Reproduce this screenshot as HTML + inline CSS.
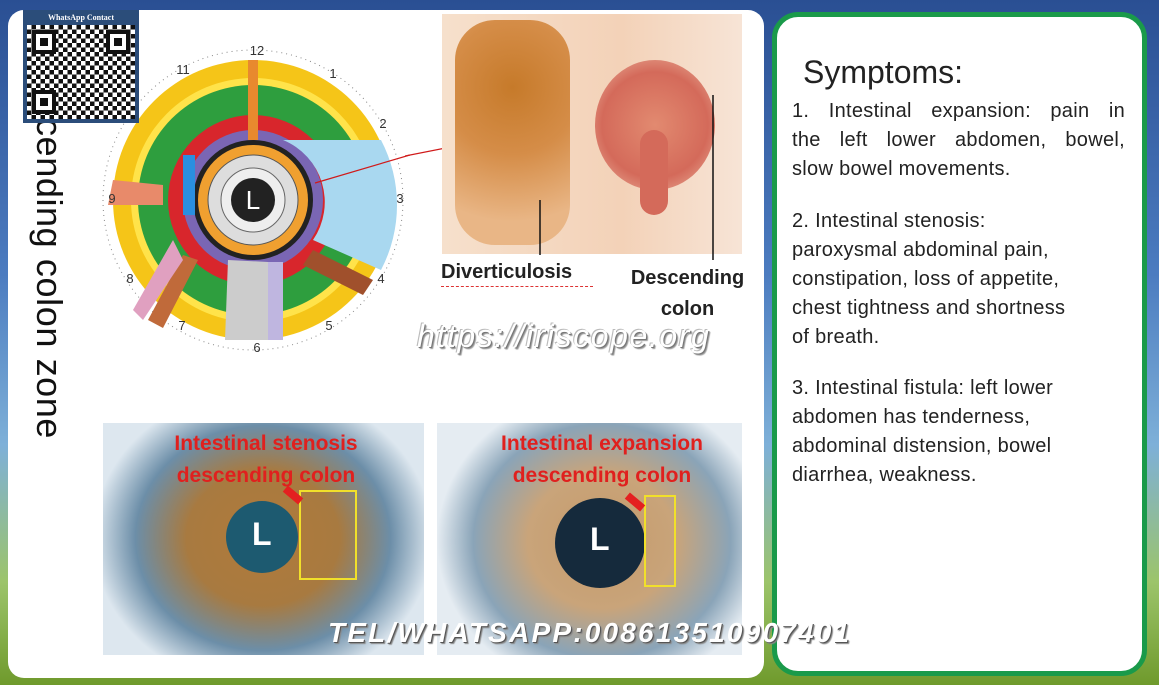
<!DOCTYPE html>
<html><head><meta charset="utf-8"><style>
*{margin:0;padding:0;box-sizing:border-box}
body{width:1159px;height:685px;overflow:hidden;position:relative;font-family:"Liberation Sans",sans-serif;
background:linear-gradient(180deg,#2a4f93 0%,#4c7cc0 40%,#7eb0d8 65%,#9cc46a 85%,#6f9a2c 100%);}
.abs{position:absolute}
#left{left:8px;top:10px;width:756px;height:668px;background:#fff;border-radius:16px}
#right{left:772px;top:12px;width:375px;height:664px;background:#fff;border:5px solid #1a9a4a;border-radius:26px}
.t{font-size:20px;color:#222;line-height:29px;letter-spacing:0.3px}
.j{text-align:justify;text-align-last:justify}
.fp{position:absolute;width:24px;height:24px;border:4px solid #111;background:#fff}
.fp::after{content:"";position:absolute;left:4px;top:4px;width:8px;height:8px;background:#111}
</style></head><body>
<div id="left" class="abs"></div>
<div id="right" class="abs"></div>

<div class="abs" style="left:28px;top:118px;width:40px;height:330px;">
 <div style="position:absolute;left:42px;top:0;transform-origin:0 0;transform:rotate(90deg);font-size:36px;color:#111;white-space:nowrap;letter-spacing:0.6px">cending colon zone</div>
</div>

<svg class="abs" style="left:100px;top:40px" width="310" height="320" viewBox="0 0 310 320">
 <g transform="translate(153,160)">
  <circle r="150" fill="#fff" stroke="#888" stroke-width="1" stroke-dasharray="1 4"/>
  <circle r="140" fill="#f5c518"/>
  <circle r="122" fill="#ffe34a"/>
  <circle r="115" fill="#2e9e3e"/>
  <circle r="85" fill="#d8262c"/>
  <circle r="70" fill="#7a66b4"/>
  <circle r="60" fill="#222"/>
  <circle r="55" fill="#f0a030"/>
  <circle r="45" fill="#ddd" stroke="#555"/>
  <circle r="32" fill="#eee" stroke="#666"/>
  <path d="M30,-60 A67,67 0 0 1 60,40 L128,70 A140,140 0 0 0 128,-60Z" fill="#a9d8f0"/>
  <path d="M-5,-140 L5,-140 L5,-60 L-5,-60Z" fill="#e8892e"/>
  <path d="M-140,-20 L-90,-15 L-90,5 L-145,5Z" fill="#e88a6a"/>
  <path d="M-25,60 L15,62 L15,140 L-28,140Z" fill="#ccc"/>
  <path d="M15,62 L30,62 L30,140 L15,140Z" fill="#bfb6e0"/>
  <path d="M60,50 L120,80 L110,95 L50,65Z" fill="#a0502c"/>
  <path d="M-70,55 L-55,60 L-90,128 L-105,120Z" fill="#c06a3a"/>
  <path d="M-80,40 L-70,60 L-110,120 L-120,110Z" fill="#e0a0c0"/>
  <rect x="-70" y="-45" width="12" height="60" fill="#2a8fe0"/>
  <circle r="22" fill="#222"/>
  <text x="0" y="9" font-size="26" fill="#fff" text-anchor="middle" font-family="Liberation Sans">L</text>
 </g>
 <g font-family="Liberation Sans" font-size="13" fill="#333" text-anchor="middle">
  <text x="157" y="15">12</text><text x="233" y="38">1</text><text x="283" y="88">2</text>
  <text x="300" y="163">3</text><text x="281" y="243">4</text><text x="229" y="290">5</text>
  <text x="157" y="312">6</text><text x="82" y="290">7</text><text x="30" y="243">8</text>
  <text x="12" y="163">9</text><text x="83" y="34">11</text>
 </g>
 <line x1="215" y1="143" x2="310" y2="115" stroke="#d01a1a" stroke-width="1.2"/>
</svg>
<svg class="abs" style="left:405px;top:90px" width="320" height="80"><line x1="0" y1="66" x2="310" y2="5" stroke="#d01a1a" stroke-width="1.2"/></svg>

<div class="abs" style="left:23px;top:10px;width:116px;height:113px;background:#2b4d7a;padding:4px">
 <div style="color:#fff;font:bold 8px 'Liberation Serif',serif;text-align:center;height:8px;line-height:8px">WhatsApp Contact</div>
 <div style="position:relative;margin-top:3px;height:94px;background:conic-gradient(#111 25%,#fff 0 50%,#111 0 75%,#fff 0) 0 0/9px 9px;">
  <div class="fp" style="left:5px;top:5px"></div>
  <div class="fp" style="right:5px;top:5px"></div>
  <div class="fp" style="left:5px;bottom:5px"></div>
 </div>
</div>

<div class="abs" style="left:442px;top:14px;width:300px;height:240px;background:linear-gradient(90deg,#f6e0cc 0%,#f3d2b8 60%,#f7e4d6 100%)"></div>
<div class="abs" style="left:455px;top:20px;width:115px;height:225px;border-radius:40px;background:radial-gradient(circle at 50% 30%,#c67a2a,#d58d48 40%,#e9b686 80%)"></div>
<div class="abs" style="left:595px;top:60px;width:120px;height:130px;border-radius:50%;background:radial-gradient(circle,#e28a70,#d46a5a 60%,#eebda6)"></div>
<div class="abs" style="left:640px;top:130px;width:28px;height:85px;border-radius:14px;background:#d46a5a"></div>
<svg class="abs" style="left:530px;top:90px" width="200" height="180"><line x1="183" y1="5" x2="183" y2="170" stroke="#111" stroke-width="1.5"/><line x1="10" y1="110" x2="10" y2="165" stroke="#111" stroke-width="1.5"/></svg>
<div class="abs" style="left:441px;top:261px;font-weight:bold;font-size:20px;color:#222">Diverticulosis</div>
<div class="abs" style="left:441px;top:286px;width:152px;border-bottom:1px dashed #d33"></div>
<div class="abs" style="left:620px;top:263px;width:135px;font-weight:bold;font-size:20px;color:#222;text-align:center;line-height:31px">Descending<br>colon</div>

<div class="abs" style="left:417px;top:318px;font-style:italic;font-size:32px;color:#fff;text-shadow:1px 1px 0 #777,2px 2px 1px #999,-1px -1px 0 #bbb;letter-spacing:1.6px">https://iriscope.org</div>

<div class="abs" style="left:103px;top:423px;width:321px;height:232px;overflow:hidden;background:radial-gradient(ellipse 170px 150px at 160px 115px,#b07a3a 0%,#a87a40 45%,#6c8ea8 75%,#dde7ef 100%)">
 <div class="abs" style="left:123px;top:78px;width:72px;height:72px;border-radius:50%;background:#1d5a70"></div>
 <div class="abs" style="left:149px;top:93px;font-weight:bold;font-size:32px;color:#fff">L</div>
 <div class="abs" style="left:196px;top:67px;width:58px;height:90px;border:2px solid #f1e02a"></div>
 <div class="abs" style="left:48px;top:5px;width:230px;text-align:center;font-weight:bold;font-size:21px;color:#e0201e;line-height:32px">Intestinal stenosis<br>descending colon</div>
 <div class="abs" style="left:180px;top:68px;width:20px;height:8px;background:#e42020;transform:rotate(40deg)"></div>
</div>
<div class="abs" style="left:437px;top:423px;width:305px;height:232px;overflow:hidden;background:radial-gradient(ellipse 165px 150px at 165px 118px,#c49a6a 0%,#c9a47a 45%,#8aa4b8 78%,#e5ecf2 100%)">
 <div class="abs" style="left:118px;top:75px;width:90px;height:90px;border-radius:50%;background:#152a3c"></div>
 <div class="abs" style="left:153px;top:98px;font-weight:bold;font-size:32px;color:#fff">L</div>
 <div class="abs" style="left:207px;top:72px;width:32px;height:92px;border:2px solid #f1e02a"></div>
 <div class="abs" style="left:30px;top:5px;width:270px;text-align:center;font-weight:bold;font-size:21px;color:#e0201e;line-height:32px">Intestinal expansion<br>descending colon</div>
 <div class="abs" style="left:188px;top:75px;width:20px;height:8px;background:#e42020;transform:rotate(40deg)"></div>
</div>

<div class="abs" style="left:328px;top:617px;font-style:italic;font-weight:bold;font-size:28px;color:#fff;text-shadow:1px 1px 0 #555,2px 2px 1px #888;letter-spacing:2.2px;white-space:nowrap">TEL/WHATSAPP:008613510907401</div>

<div class="abs" style="left:803px;top:54px;font-size:32px;color:#222">Symptoms:</div>
<div class="abs t" style="left:792px;top:97px;width:333px">
 <div class="j">1. Intestinal expansion: pain in</div>
 <div class="j">the left lower abdomen, bowel,</div>
 <div>slow bowel movements.</div>
</div>
<div class="abs t" style="left:792px;top:207px;width:334px;white-space:nowrap">2. Intestinal stenosis:<br>paroxysmal abdominal pain,<br>constipation, loss of appetite,<br>chest tightness and shortness<br>of breath.</div>
<div class="abs t" style="left:792px;top:374px;width:334px;white-space:nowrap">3. Intestinal fistula: left lower<br>abdomen has tenderness,<br>abdominal distension, bowel<br>diarrhea, weakness.</div>
</body></html>
